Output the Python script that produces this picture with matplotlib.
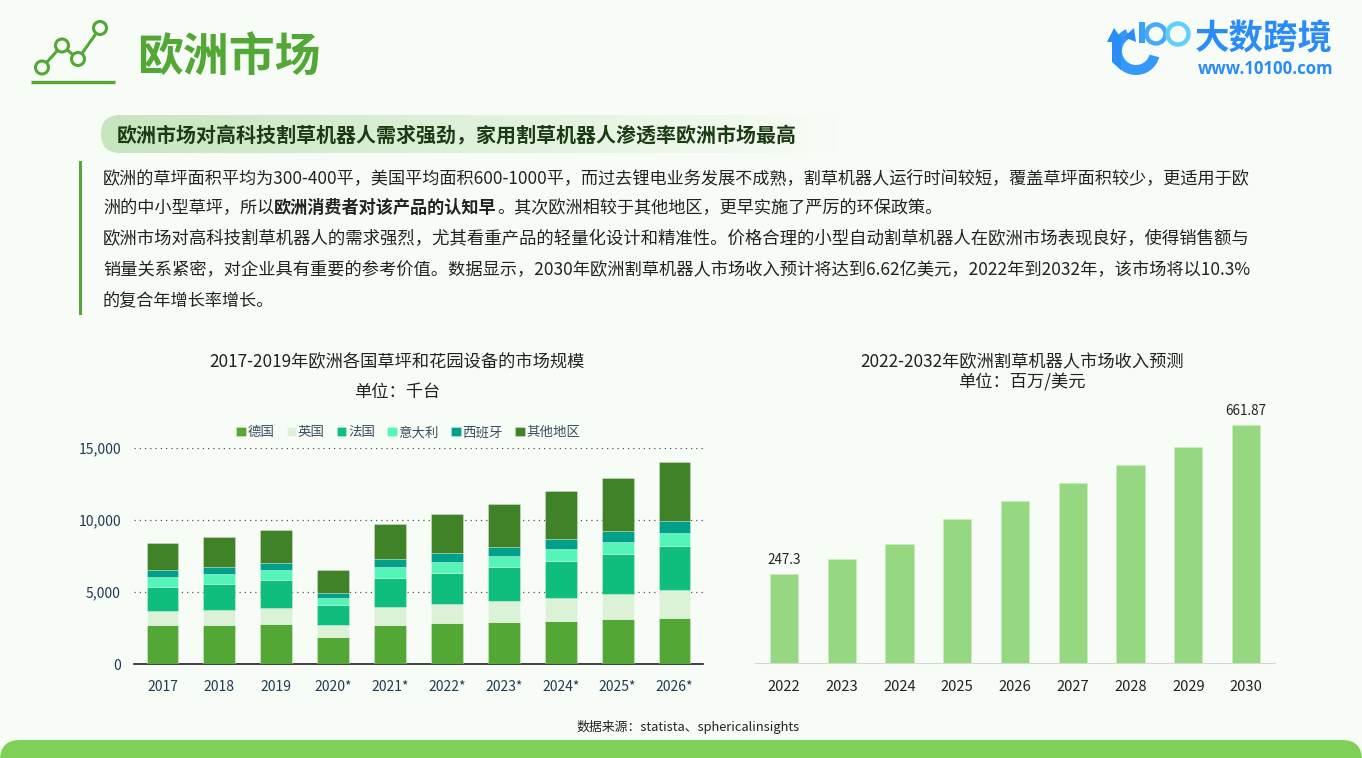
import numpy as np
import matplotlib
matplotlib.use("Agg")
import matplotlib.pyplot as plt
from matplotlib.patches import FancyBboxPatch, Circle, Rectangle, Wedge, Polygon

plt.rcParams['font.family'] = ['Noto Sans CJK SC', 'DejaVu Sans']

W, H = 1362, 758
BG = '#f8fcf7'
GREEN = '#52a735'
DARK = '#1f3a52'

# left chart
years_left = ['2017', '2018', '2019', '2020*', '2021*', '2022*', '2023*', '2024*', '2025*', '2026*']
germany = [2685, 2708, 2778, 1898, 2731, 2824, 2917, 3009, 3102, 3218]
uk = [973, 1042, 1134, 810, 1227, 1320, 1458, 1574, 1736, 1921]
france = [1712, 1829, 1921, 1366, 2037, 2199, 2384, 2593, 2801, 3055]
italy = [695, 671, 695, 509, 741, 740, 741, 810, 833, 903]
spain = [440, 463, 509, 324, 533, 602, 602, 671, 741, 810]
others = [1921, 2083, 2245, 1644, 2453, 2709, 3032, 3334, 3681, 4098]
series_names = ['德国', '英国', '法国', '意大利', '西班牙', '其他地区']
series_colors = ['#52a735', '#dcf2d6', '#0fbd7c', '#55f5b8', '#00a08a', '#3f8227']
yticks_left = [0, 5000, 10000, 15000]

# right chart
years_right = ['2022', '2023', '2024', '2025', '2026', '2027', '2028', '2029', '2030']
revenue = [247.3, 290, 330, 400, 450, 500, 550, 600, 661.87]
revenue_labels = {0: '247.3', 8: '661.87'}


def ax_px(fig, left, top, right, bottom):
    return fig.add_axes([left/W, 1-bottom/H, (right-left)/W, (bottom-top)/H])


fig = plt.figure(figsize=(W/100, H/100), dpi=100, facecolor=BG)

# page layer in pixel coordinates
page = fig.add_axes([0, 0, 1, 1], zorder=0)
page.axis('off')

# header icon
page.plot([31, 115], [82, 82], color=GREEN, lw=2.4, solid_capstyle='butt')
page.plot([42, 62, 78, 100], [67.5, 45.5, 59, 28], color=GREEN, lw=2.2, zorder=2)
for cx, cy in [(42, 67.5), (62, 45.5), (78, 59), (100, 28)]:
    page.add_patch(Circle((cx, cy), 6.5, fc=BG, ec=GREEN, lw=2.2, zorder=3))
page.text(137, 58, '欧洲市场', color=GREEN, fontsize=33, fontweight='bold', va='center', ha='left')

# logo
blue = '#2b8cf5'
page.add_patch(Wedge((1136, 51), 24, 15, 245, width=10, fc='#3399fa', ec='none'))
page.add_patch(Polygon([[1107, 42], [1114, 28], [1124, 42], [1121, 42], [1121, 70], [1112, 62], [1112, 42]], fc=blue, ec='none'))
page.add_patch(Polygon([[1124, 37], [1134, 28], [1136, 42]], fc=blue, ec='none'))
page.add_patch(Rectangle((1139, 22), 5.5, 21, fc='#3aa0fb', ec='none'))
page.add_patch(Circle((1156, 34), 9.5, fc='none', ec='#45aafb', lw=3.2))
page.add_patch(Circle((1178, 34), 10.5, fc='none', ec='#60d0fb', lw=3.2))
page.text(1195, 39, '大数跨境', color=blue, fontsize=24.8, fontweight='bold', va='center', ha='left')
page.text(1198, 69, 'www.10100.com', color=blue, fontsize=12.1, fontweight='bold', va='center', ha='left',
          family=['Open Sans', 'DejaVu Sans'])

# headline pill with fading gradient
pill_rgba = np.ones((1, 256, 4))
pill_rgba[..., :3] = [0xc6/255, 0xe6/255, 0xbe/255]
pill_rgba[..., 3] = 1 - np.linspace(0, 1, 256)
pill_img = page.imshow(pill_rgba, extent=[101, 840, 153, 115], aspect='auto', zorder=1)
pill_clip = FancyBboxPatch((101, 115), 800, 38, boxstyle='round,pad=0,rounding_size=19', fc='none', ec='none')
page.add_patch(pill_clip)
pill_img.set_clip_path(pill_clip)
page.set_xlim(0, W)
page.set_ylim(H, 0)
page.text(117, 135, '欧洲市场对高科技割草机器人需求强劲，家用割草机器人渗透率欧洲市场最高', color='#1c3a14',
          fontsize=14.37, fontweight='bold', va='center', ha='left', zorder=3)

# paragraph, digits run a bit wide in this font so the size differs per line
page.add_patch(Rectangle((79, 161), 2.5, 154, fc=GREEN, ec='none'))
para = [
    (178, 12.35, [('欧洲的草坪面积平均为300-400平，美国平均面积600-1000平，而过去锂电业务发展不成熟，割草机器人运行时间较短，覆盖草坪面积较少，更适用于欧', 'normal')]),
    (208, 12.35, [('洲的中小型草坪，所以', 'normal'), ('欧洲消费者对该产品的认知早', 'bold'), ('。其次欧洲相较于其他地区，更早实施了严厉的环保政策。', 'normal')]),
    (239, 12.5, [('欧洲市场对高科技割草机器人的需求强烈，尤其看重产品的轻量化设计和精准性。价格合理的小型自动割草机器人在欧洲市场表现良好，使得销售额与', 'normal')]),
    (270, 12.43, [('销量关系紧密，对企业具有重要的参考价值。数据显示，2030年欧洲割草机器人市场收入预计将达到6.62亿美元，2022年到2032年，该市场将以10.3%', 'normal')]),
    (301, 12.35, [('的复合年增长率增长。', 'normal')]),
]
fig.canvas.draw()
renderer = fig.canvas.get_renderer()
for y, size, parts in para:
    x = 103
    for txt, weight in parts:
        t = page.text(x, y, txt, color='#222222', fontsize=size, fontweight=weight, va='center', ha='left')
        x += t.get_window_extent(renderer).width

# footer
page.text(688, 727, '数据来源：statista、sphericalinsights', color='#222222', fontsize=9.3, va='center', ha='center')
page.add_patch(FancyBboxPatch((0, 740), W, 60, boxstyle='round,pad=0,rounding_size=20', fc='#7ed056', ec='none'))

# chart titles
page.text(397, 362, '2017-2019年欧洲各国草坪和花园设备的市场规模', color='#222222', fontsize=12.4, va='center', ha='center')
page.text(397, 392, '单位：千台', color='#222222', fontsize=12.4, va='center', ha='center')
page.text(1022, 362, '2022-2032年欧洲割草机器人市场收入预测', color='#222222', fontsize=12.4, va='center', ha='center')
page.text(1022, 382, '单位：百万/美元', color='#222222', fontsize=12.4, va='center', ha='center')

# stacked bars
ax1 = ax_px(fig, 134, 448, 703, 664)
ax1.patch.set_alpha(0)
x1 = np.arange(len(years_left))
bottom = np.zeros(len(years_left))
for vals, name, col in zip([germany, uk, france, italy, spain, others], series_names, series_colors):
    ax1.bar(x1, vals, 0.56, bottom=bottom, color=col, label=name, zorder=3, edgecolor='#ffffff55', linewidth=0.6)
    bottom += np.array(vals)
ax1.set_xlim(-0.5, 9.5)
ax1.set_ylim(0, 15000)
ax1.set_yticks(yticks_left)
ax1.set_yticklabels([f'{v:,}' for v in yticks_left])
ax1.set_xticks(x1)
ax1.set_xticklabels(years_left)
ax1.grid(axis='y', linestyle=(0, (1, 3.2)), color='#555555', lw=0.9, zorder=0)
for s in ['top', 'left', 'right']:
    ax1.spines[s].set_visible(False)
ax1.spines['bottom'].set_color('#222222')
ax1.spines['bottom'].set_linewidth(1.2)
ax1.tick_params(axis='both', length=0, labelcolor=DARK, labelsize=10)
ax1.tick_params(axis='x', pad=11.5)
ax1.tick_params(axis='y', pad=9.4)
ax1.legend(loc='lower center', bbox_to_anchor=(0.482, 1.01), ncol=6, frameon=False, fontsize=9.7, labelcolor='#3a4f60',
           handlelength=0.7, handleheight=0.7, handletextpad=0.12, columnspacing=0.92, borderaxespad=0.1)

# revenue bars
ax2 = ax_px(fig, 755, 425-12, 1275, 662.5)
ax2.patch.set_alpha(0)
x2 = np.arange(len(years_right))
ax2.bar(x2, revenue, 0.49, color='#96d881', edgecolor='#c8eebb', linewidth=0.6, zorder=3)
ax2.set_xlim(-0.5, 8.5)
ax2.set_ylim(0, 661.87*(249.5/237.3))
ax2.set_yticks([])
ax2.set_xticks(x2)
ax2.set_xticklabels(years_right)
for s in ['top', 'left', 'right']:
    ax2.spines[s].set_visible(False)
ax2.spines['bottom'].set_color('#d4d8d4')
ax2.tick_params(axis='x', length=0, pad=12.5, labelcolor='#222222', labelsize=10.6)
for i, lab in revenue_labels.items():
    ax2.annotate(lab, (x2[i], revenue[i]), xytext=(0, 5), textcoords='offset points', ha='center', va='bottom',
                 fontsize=9.7, color='#222222', annotation_clip=False)

fig.savefig('out.png', dpi=100, facecolor=BG)
